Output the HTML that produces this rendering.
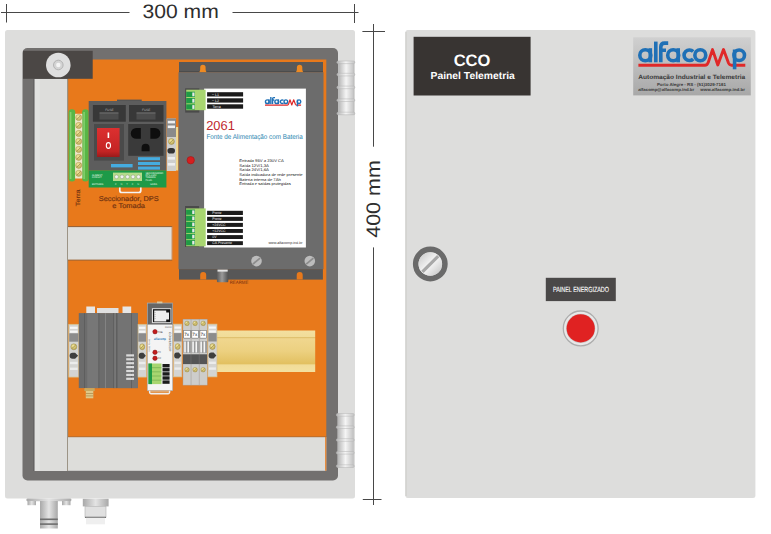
<!DOCTYPE html>
<html><head><meta charset="utf-8"><title>CCO Painel Telemetria</title>
<style>
html,body{margin:0;padding:0;background:#fff;width:771px;height:534px;overflow:hidden}
svg{display:block}
text{font-family:"Liberation Sans",sans-serif;text-rendering:geometricPrecision}
</style></head><body>
<svg width="771" height="534" viewBox="0 0 771 534">
<defs>
<linearGradient id="hinge" x1="0" x2="1" y1="0" y2="0">
<stop offset="0" stop-color="#b4b4b4"/><stop offset="0.5" stop-color="#f5f5f5"/><stop offset="1" stop-color="#c2c2c2"/>
</linearGradient>
<linearGradient id="rail" x1="0" x2="0" y1="0" y2="1">
<stop offset="0" stop-color="#f3e0a0"/><stop offset="0.15" stop-color="#f1dc98"/><stop offset="0.16" stop-color="#dcbc68"/><stop offset="0.2" stop-color="#f0d68e"/><stop offset="0.5" stop-color="#ecd080"/><stop offset="0.8" stop-color="#e2c060"/><stop offset="0.83" stop-color="#f1dc98"/><stop offset="1" stop-color="#f3e0a0"/>
</linearGradient>
<linearGradient id="logo" x1="0" x2="0" y1="0" y2="1">
<stop offset="0" stop-color="#d0d0d0"/><stop offset="1" stop-color="#a8a8a8"/>
</linearGradient>
<linearGradient id="silver" x1="0" x2="1" y1="0" y2="1">
<stop offset="0" stop-color="#c4c4c4"/><stop offset="0.5" stop-color="#f6f6f6"/><stop offset="1" stop-color="#c0c0c0"/>
</linearGradient>
<linearGradient id="gland" x1="0" x2="1" y1="0" y2="0">
<stop offset="0" stop-color="#a8a8a8"/><stop offset="0.5" stop-color="#e4e4e4"/><stop offset="1" stop-color="#a8a8a8"/>
</linearGradient>
<linearGradient id="fuseg" x1="0" x2="1" y1="0" y2="0">
<stop offset="0" stop-color="#5a5a5a"/><stop offset="0.45" stop-color="#9a9a9a"/><stop offset="1" stop-color="#505050"/>
</linearGradient>
<radialGradient id="screwg" cx="0.4" cy="0.35" r="0.7">
<stop offset="0" stop-color="#f4e8a0"/><stop offset="1" stop-color="#b8a450"/>
</radialGradient>
<g id="alogo">
<g fill="none" stroke="#1f70b6" style="stroke-width:var(--bw,3.2)">
<circle cx="645.3" cy="55.25" r="5.5"/><path d="M650.3 48.2 V62.3"/>
<path d="M655.8 41.6 V62.3"/>
<path d="M660.8 62.3 V47 Q660.8 43.15 664.6 43.15 H668.2 M659.3 50.3 H666"/>
<circle cx="673.2" cy="55.25" r="5.5"/><path d="M678.2 48.2 V62.3"/>
<path d="M693.2 51.6 A5.3 5.3 0 1 0 693.2 58.9"/>
<circle cx="700.3" cy="55.25" r="5.45"/>
</g>
<path d="M638.4 65.2 H705 Q707.3 65.2 708.4 62 L712.5 49.6 L717.8 65 L723.5 49.6 L728.5 63 Q729.5 65.2 731.5 65.2 H745.3" fill="none" stroke="#e02828" style="stroke-width:var(--rw,2.7)" stroke-linejoin="round"/>
<g fill="none" stroke="#1f70b6" style="stroke-width:var(--bw,3.2)">
<path d="M734.6 49.5 V69.3"/><circle cx="739.2" cy="55.25" r="5.3"/>
</g>
</g>
<g id="clamp">
<rect x="0" y="0" width="10" height="52.8" fill="#d4d4d2" stroke="#d8c088" stroke-width="0.7"/>
<rect x="1.2" y="2.4" width="7.6" height="2.2" fill="#f6f6f6"/><rect x="1.2" y="6.3" width="7.6" height="2.2" fill="#f6f6f6"/>
<rect x="0.4" y="9" width="9.2" height="8.4" fill="#8c8c8c"/>
<circle cx="5" cy="22.5" r="3" fill="url(#screwg)" stroke="#8b7c3b" stroke-width="0.4"/>
<path d="M3.2 24.1 L6.8 20.9" stroke="#8b7c3b" stroke-width="0.6"/>
<path d="M0.8 31.5 q0 -3 3 -3 h2.5 l3 3 l-3 3 h-2.5 q-3 0 -3 -3z" fill="#3e3e3e"/>
<rect x="1.2" y="37.5" width="7.6" height="2.4" fill="#ececec"/><rect x="1.2" y="43.3" width="7.6" height="2.4" fill="#ececec"/>
</g>
<g id="ft">
<rect x="0" y="0" width="8.07" height="65.9" fill="#cdcdcb" stroke="#a0a0a0" stroke-width="0.4"/>
<circle cx="4.03" cy="4.2" r="2.3" fill="url(#screwg)" stroke="#9b8a4a" stroke-width="0.4"/><path d="M2.5 5.7 l3 -3" stroke="#8b7c3b" stroke-width="0.5"/>
<rect x="0.8" y="11.2" width="6.5" height="7.7" fill="#fff" stroke="#333" stroke-width="0.4"/>
<text x="1.3" y="17" font-size="4.6" fill="#222">7x</text>
<rect x="0.3" y="21.8" width="7.5" height="11.9" fill="#9a9a9a"/>
<rect x="1.2" y="22.3" width="1.6" height="11" fill="#f6f6f6"/><rect x="4.4" y="22.3" width="1.6" height="11" fill="#f6f6f6"/>
<rect x="0" y="35.1" width="8.07" height="9.8" fill="#555"/>
<circle cx="4.03" cy="50.5" r="2.3" fill="url(#screwg)" stroke="#9b8a4a" stroke-width="0.4"/><path d="M2.5 52 l3 -3" stroke="#8b7c3b" stroke-width="0.5"/>
</g>
<linearGradient id="redsw" x1="0" x2="0" y1="0" y2="1"><stop offset="0" stop-color="#dc3030"/><stop offset="0.8" stop-color="#c42424"/><stop offset="1" stop-color="#9a1a1a"/></linearGradient>
</defs>

<!-- dimension lines -->
<g stroke="#474747" stroke-width="1">
<line x1="1" y1="12.5" x2="129.5" y2="12.5"/>
<line x1="232.5" y1="12.5" x2="358.5" y2="12.5"/>
<line x1="6.5" y1="4" x2="6.5" y2="22.5"/>
<line x1="354.5" y1="4" x2="354.5" y2="23"/>
<line x1="373.5" y1="24" x2="373.5" y2="146.7"/>
<line x1="373.5" y1="247.4" x2="373.5" y2="505"/>
<line x1="362.4" y1="31.5" x2="385" y2="31.5"/>
<line x1="362.8" y1="499.5" x2="381.5" y2="499.5"/>
</g>
<text x="142.5" y="18.2" font-size="19.5" fill="#2e2e2e" textLength="76.3" lengthAdjust="spacingAndGlyphs">300 mm</text>
<text transform="translate(380.4,237.8) rotate(-90)" font-size="19.5" fill="#2e2e2e" textLength="77.6" lengthAdjust="spacingAndGlyphs">400 mm</text>

<!-- LEFT PANEL -->
<rect x="5" y="30" width="350" height="468.5" rx="2.5" fill="#dddddc"/>
<rect x="22.5" y="48" width="315.5" height="432.5" rx="5" fill="#72706f"/>
<rect x="33" y="79" width="1.8" height="392" fill="#666464"/>
<rect x="68" y="59.5" width="258.3" height="377.5" fill="#e8791b"/>
<rect x="34.7" y="79" width="33.3" height="392" fill="#dddddb"/>
<rect x="34.8" y="79" width="5" height="392" fill="#e2e2e0"/>
<rect x="67.2" y="79" width="1" height="392" fill="#8c8272"/>
<rect x="68" y="437" width="258.3" height="33.8" fill="#dddddA"/>
<rect x="68" y="436.4" width="258.3" height="0.8" fill="#a86a38"/>
<rect x="325.2" y="437" width="1.1" height="33.8" fill="#e8791b"/>
<!-- top-left block -->
<rect x="23" y="50.8" width="69.7" height="28" fill="#4b4745"/>
<circle cx="58.3" cy="65" r="12.3" fill="#dfdfdf"/>
<circle cx="58.3" cy="65" r="4.8" fill="#d4d4d4" stroke="#b4b4b4" stroke-width="1"/>
<circle cx="58.3" cy="65" r="2.2" fill="#f4f4f4"/>

<!-- hinges -->
<g id="hinge1">
<rect x="338.3" y="61.5" width="15.6" height="53" fill="url(#hinge)" stroke="#b8b8b8" stroke-width="0.5"/>
<g fill="url(#hinge)" stroke="#b4b4b4" stroke-width="0.5">
<rect x="336.9" y="61" width="18" height="2.6" rx="1.3"/><rect x="336.9" y="73.3" width="18" height="2.6" rx="1.3"/><rect x="336.9" y="86.1" width="18" height="2.6" rx="1.3"/><rect x="336.9" y="98.9" width="18" height="2.6" rx="1.3"/><rect x="336.9" y="112.2" width="18" height="2.6" rx="1.3"/>
</g>
</g>
<use href="#hinge1" x="-0.6" y="352.6"/>

<!-- Terra terminal strip -->
<rect x="68.6" y="109.3" width="6.7" height="72.2" rx="3.3" fill="#58b646"/>
<rect x="82.1" y="109.3" width="6.6" height="72.2" rx="3.3" fill="#58b646"/>
<rect x="69.8" y="112" width="1.6" height="67" fill="#84cf6c"/>
<rect x="83.3" y="112" width="1.6" height="67" fill="#84cf6c"/>
<rect x="75.1" y="113.8" width="7.2" height="64.7" fill="#eee8cc"/>
<g stroke="#a8964e" stroke-width="0.4" fill="url(#screwg)"><circle cx="78.7" cy="117.50" r="3.1"/><circle cx="78.7" cy="125.47" r="3.1"/><circle cx="78.7" cy="133.44" r="3.1"/><circle cx="78.7" cy="141.41" r="3.1"/><circle cx="78.7" cy="149.38" r="3.1"/><circle cx="78.7" cy="157.35" r="3.1"/><circle cx="78.7" cy="165.32" r="3.1"/><circle cx="78.7" cy="173.29" r="3.1"/></g>
<path d="M76.6 119.60 l4.2 -4.2 M76.6 127.57 l4.2 -4.2 M76.6 135.54 l4.2 -4.2 M76.6 143.51 l4.2 -4.2 M76.6 151.48 l4.2 -4.2 M76.6 159.45 l4.2 -4.2 M76.6 167.42 l4.2 -4.2 M76.6 175.39 l4.2 -4.2" stroke="#9a8640" stroke-width="0.7"/>
<text transform="translate(79.7,206.2) rotate(-90)" font-size="6.2" fill="#6e3010" stroke="#6e3010" stroke-width="0.12" textLength="16.7" lengthAdjust="spacingAndGlyphs">Terra</text>

<!-- outlet module -->
<rect x="117" y="99.6" width="24.7" height="2.5" fill="#555"/>
<rect x="88.7" y="101" width="77.7" height="69.5" fill="#5d5d5d"/>
<rect x="92.9" y="105" width="32.9" height="16.7" fill="#383838"/>
<rect x="129" y="105" width="34.5" height="16.7" fill="#383838"/>
<rect x="99.5" y="113" width="19" height="6.5" fill="#4c4c4c"/>
<rect x="136.5" y="113" width="19" height="6.5" fill="#4c4c4c"/>
<rect x="99.5" y="112.5" width="19" height="0.9" fill="#7a7a7a"/>
<rect x="136.5" y="112.5" width="19" height="0.9" fill="#7a7a7a"/>
<text x="109.4" y="110.6" font-size="3.2" fill="#b0b0b0" text-anchor="middle">FUSE</text>
<text x="146.2" y="110.6" font-size="3.2" fill="#b0b0b0" text-anchor="middle">FUSE</text>
<rect x="94" y="124" width="30" height="36.6" fill="#4a4a4a"/>
<rect x="97" y="128" width="22.6" height="29" fill="url(#redsw)"/>
<rect x="107.6" y="132.5" width="1.6" height="5.5" fill="#fff"/>
<ellipse cx="108.4" cy="145.5" rx="2.1" ry="2.9" fill="none" stroke="#fff" stroke-width="1.1"/>
<rect x="128.2" y="124" width="35.3" height="31.8" fill="#3a3a3a"/>
<path d="M136.2 128 h4.6 v10.8 h-4.6 a5.4 5.4 0 0 1 0 -10.8z" fill="#0e0e0e"/>
<path d="M155 128 h-4.6 v10.8 h4.6 a5.4 5.4 0 0 0 0 -10.8z" fill="#0e0e0e"/>
<path d="M141.6 151.2 v-3.4 a4 4 0 0 1 8 0 v3.4z" fill="#0e0e0e"/>
<g fill="#45ace0"><rect x="111" y="164" width="21.6" height="3.4"/><rect x="138" y="157.2" width="22" height="3"/><rect x="138" y="162" width="22" height="3"/><rect x="138" y="166.6" width="22" height="3"/></g>
<rect x="88.7" y="170.4" width="77.7" height="17.1" fill="#1d9a48"/>
<rect x="113" y="172.6" width="29" height="8.4" fill="#b5dc8c"/>
<g fill="#f2f2f2" stroke="#7a8a70" stroke-width="0.4"><circle cx="116.5" cy="176.8" r="1.9"/><circle cx="122" cy="176.8" r="1.9"/><circle cx="127.5" cy="176.8" r="1.9"/><circle cx="133" cy="176.8" r="1.9"/><circle cx="138.5" cy="176.8" r="1.9"/></g>
<g fill="#f0fff0" font-size="2.4"><text x="92" y="176">ALIMENT.</text><text x="92" y="178.3">CIRCUIT</text><text x="92" y="184.6">ENTRADA</text><text x="145.5" y="173.8">SECCIONADOR</text><text x="145.5" y="176.1">DPS 230V</text><text x="145.5" y="178.4">TOMADA</text><text x="145.5" y="180.7">PLUG</text><text x="150" y="184.6">SAIDA</text></g>
<g fill="#d8f0d8" font-size="2.6"><text x="115" y="184.8" textLength="24" lengthAdjust="spacing">FNTFN</text></g>
<path d="M119.8 187.5 v3 a2 2 0 0 0 2 2 h17 a2 2 0 0 0 2 -2 v-3" fill="none" stroke="#f4f4f4" stroke-width="1.7"/>
<!-- small clamp right of module -->
<rect x="175.6" y="127" width="2.6" height="43.5" fill="#f0d890"/>
<rect x="166.8" y="118.5" width="9.2" height="52.5" fill="#cfcfcd"/>
<rect x="166.8" y="118.5" width="9.2" height="18.5" fill="#8a8a8a"/>
<rect x="167.8" y="120.8" width="7.2" height="2.6" fill="#eeeeee"/><rect x="167.8" y="125.5" width="7.2" height="2.6" fill="#eeeeee"/>
<circle cx="171.4" cy="141.5" r="3" fill="url(#screwg)" stroke="#8b7c3b" stroke-width="0.4"/>
<path d="M169.6 143.2 l3.6 -3.4" stroke="#8b7c3b" stroke-width="0.6"/>
<rect x="167.4" y="148" width="7.6" height="5.6" rx="2.8" fill="#333"/>
<rect x="167.8" y="157" width="7.2" height="2.6" fill="#eeeeee"/><rect x="167.8" y="163" width="7.2" height="2.6" fill="#eeeeee"/>
<text x="98.8" y="200.9" font-size="7" fill="#6e3010" stroke="#6e3010" stroke-width="0.15" textLength="59.9" lengthAdjust="spacingAndGlyphs">Seccionador, DPS</text>
<text x="112.3" y="207.6" font-size="7" fill="#6e3010" stroke="#6e3010" stroke-width="0.15" textLength="32.7" lengthAdjust="spacingAndGlyphs">e Tomada</text>

<!-- wire duct -->
<rect x="68" y="226.7" width="104.2" height="33.3" fill="#dfdfdc"/>
<rect x="68" y="226" width="104.2" height="1.1" fill="#9a6438"/>
<rect x="68" y="259.6" width="104.2" height="1" fill="#9a6438"/>
<rect x="171.6" y="226.7" width="0.8" height="33.3" fill="#c08050"/>

<!-- PSU 2061 -->
<rect x="179" y="62" width="144" height="10.3" fill="#595959"/>
<rect x="179" y="71" width="144" height="1.4" fill="#4c4c4c"/>
<path d="M199.1 72.2 q1.1 -1 1.1 -3 v-1.8 a2.7 2.7 0 0 1 5.4 0 v1.8 q0 2 1.1 3z" fill="#ee8a22"/>
<path d="M295.8 72.2 q1.1 -1 1.1 -3 v-1.8 a2.7 2.7 0 0 1 5.4 0 v1.8 q0 2 1.1 3z" fill="#ee8a22"/>
<rect x="178.5" y="72.3" width="145" height="196.9" fill="#6c6c6c"/>
<rect x="179" y="269.1" width="143.9" height="10.5" fill="#575757"/>
<path d="M200.2 279.6 v-4.6 a3 3 0 0 1 6 0 v4.6z" fill="#e8791b"/>
<path d="M296.7 279.6 v-4.6 a3 3 0 0 1 6 0 v4.6z" fill="#e8791b"/>
<rect x="204.1" y="88.6" width="101.8" height="158.9" fill="#ffffff"/>
<!-- top terminal -->
<rect x="185.2" y="88.3" width="14.1" height="24.3" fill="#4a4a4a"/>
<rect x="186.2" y="89.7" width="19.4" height="20.5" fill="#a8d670"/>
<g fill="#1f9a45"><rect x="186.2" y="91.7" width="8.7" height="5.3"/><rect x="186.2" y="98" width="8.7" height="5.3"/><rect x="186.2" y="104.3" width="8.7" height="5.2"/></g>
<g fill="#e8e8e8"><rect x="192.3" y="92.5" width="2.2" height="3.8"/><rect x="192.3" y="98.8" width="2.2" height="3.8"/><rect x="192.3" y="105.1" width="2.2" height="3.8"/></g>
<g fill="#1b1b1b"><rect x="207.1" y="92.2" width="36" height="4.3"/><rect x="207.1" y="98.3" width="36" height="4.3"/><rect x="207.1" y="104.3" width="36" height="4.4"/></g>
<g fill="#f4f4f4" font-size="3.6"><text x="212" y="95.6">~  L1</text><text x="212" y="101.7">~  L2</text><text x="212.5" y="107.8">Terra</text></g>
<!-- mini logo -->
<use href="#alogo" style="--bw:4.1;--rw:3.4" transform="translate(49.38,83.05) scale(0.3377)"/>
<text x="206.2" y="130" font-size="13" fill="#c0282c" textLength="28.6" lengthAdjust="spacingAndGlyphs">2061</text>
<text x="206.4" y="138.5" font-size="7" fill="#2a86b0" textLength="96.3" lengthAdjust="spacingAndGlyphs">Fonte de Alimentação com Bateria</text>
<g font-size="3.9" fill="#141414">
<text x="239.3" y="161.9" textLength="44.6" lengthAdjust="spacingAndGlyphs">Entrada 95V a 230V CA</text>
<text x="239.3" y="166.6" textLength="29.6" lengthAdjust="spacingAndGlyphs">Saída 12V/1,3A</text>
<text x="239.3" y="171.3" textLength="29.6" lengthAdjust="spacingAndGlyphs">Saída 24V/1,6A</text>
<text x="239.3" y="175.9" textLength="63.3" lengthAdjust="spacingAndGlyphs">Saída indicadora de rede presente</text>
<text x="239.3" y="180.6" textLength="41.5" lengthAdjust="spacingAndGlyphs">Bateria interna de 7Ah</text>
<text x="239.3" y="185.1" textLength="51.4" lengthAdjust="spacingAndGlyphs">Entrada e saídas protegidas</text>
</g>
<text x="268.4" y="244.3" font-size="3.6" fill="#333" textLength="34.1" lengthAdjust="spacingAndGlyphs">www.alfacomp.ind.br</text>
<circle cx="190.7" cy="160.2" r="3.7" fill="#d61e1e" stroke="#a01818" stroke-width="0.6"/>
<!-- bottom terminal -->
<rect x="185.1" y="206" width="14" height="41" fill="#4a4a4a"/>
<rect x="186.1" y="208.4" width="19.6" height="37.9" fill="#a8d670"/>
<g fill="#1f9a45"><rect x="186.1" y="209.6" width="8.9" height="5.2"/><rect x="186.1" y="215.7" width="8.9" height="5.2"/><rect x="186.1" y="221.8" width="8.9" height="5.2"/><rect x="186.1" y="227.9" width="8.9" height="5.2"/><rect x="186.1" y="234" width="8.9" height="5.2"/><rect x="186.1" y="240.1" width="8.9" height="5.2"/></g>
<g fill="#e8e8e8"><rect x="192.2" y="210.4" width="2.3" height="3.6"/><rect x="192.2" y="216.5" width="2.3" height="3.6"/><rect x="192.2" y="222.6" width="2.3" height="3.6"/><rect x="192.2" y="228.7" width="2.3" height="3.6"/><rect x="192.2" y="234.8" width="2.3" height="3.6"/><rect x="192.2" y="240.9" width="2.3" height="3.6"/></g>
<g fill="#1b1b1b"><rect x="207.1" y="210.8" width="35.8" height="4.2"/><rect x="207.1" y="216.8" width="35.8" height="4.1"/><rect x="207.1" y="222.9" width="35.8" height="4"/><rect x="207.1" y="229" width="35.8" height="3.9"/><rect x="207.1" y="235.1" width="35.8" height="3.9"/><rect x="207.1" y="241.2" width="35.8" height="3.9"/></g>
<g fill="#f4f4f4" font-size="3.5"><text x="212.3" y="214.1">Ponte</text><text x="212.3" y="220.1">Ponte</text><text x="212.3" y="226.1">+24VCC</text><text x="212.3" y="232.1">+12VCC</text><text x="212.3" y="238.1">0V</text><text x="212.3" y="244.2">CA Presente</text></g>
<!-- screws -->
<g><circle cx="256.5" cy="261.1" r="5.3" fill="#bcbcbc"/><path d="M252.9 264.1 l7.2 -6" stroke="#8c8c8c" stroke-width="1.8"/></g>
<g><circle cx="309.8" cy="261.1" r="5.3" fill="#bcbcbc"/><path d="M306.2 264.1 l7.2 -6" stroke="#8c8c8c" stroke-width="1.8"/></g>
<rect x="216.9" y="270.2" width="11.4" height="12" rx="1" fill="url(#fuseg)"/>
<rect x="217.5" y="269.6" width="10.2" height="2" fill="#e6e6e6"/>
<text x="229.7" y="284.2" font-size="4.6" fill="#7a3010" textLength="18.7" lengthAdjust="spacingAndGlyphs">REARME</text>

<!-- DIN rail row -->
<rect x="217" y="330.5" width="98.2" height="41.5" fill="url(#rail)"/>
<use href="#clamp" transform="translate(68.8,324.3)"/>
<!-- modem -->
<rect x="86.3" y="306.5" width="8.7" height="7" fill="#e6e6e6"/>
<rect x="97" y="308" width="21.5" height="5.5" fill="#e0e0e0"/>
<rect x="122.5" y="306.5" width="8.7" height="7" fill="#e6e6e6"/>
<rect x="78.8" y="313.1" width="59" height="75" fill="#6c6c6c"/>
<rect x="87.2" y="313.1" width="11.3" height="75" fill="#777"/>
<rect x="118" y="313.1" width="19.8" height="75" fill="#737373"/>
<g fill="#5c5c5c"><rect x="84" y="313.1" width="0.8" height="75"/><rect x="98.5" y="313.1" width="0.8" height="75"/><rect x="113.3" y="313.1" width="1" height="75"/><rect x="116.2" y="313.1" width="1" height="75"/><rect x="131" y="313.1" width="0.8" height="75"/></g>
<g fill="#8a8a8a"><rect x="105" y="313.1" width="0.8" height="75"/><rect x="114.6" y="313.1" width="0.8" height="75"/></g>
<g fill="#dadada"><rect x="126.2" y="354.3" width="7.8" height="2.2"/><rect x="126.2" y="358.2" width="7.8" height="2.2"/><rect x="126.2" y="362.1" width="7.8" height="2.2"/><rect x="126.2" y="366" width="7.8" height="2.2"/><rect x="126.2" y="369.9" width="7.8" height="2.2"/><rect x="126.2" y="373.8" width="7.8" height="2.2"/><rect x="126.2" y="377.7" width="7.8" height="2.2"/></g>
<rect x="84.4" y="388.1" width="10.3" height="3" fill="#c8a860"/>
<rect x="85.8" y="391" width="7.5" height="7.3" fill="#e0c888"/>
<rect x="85.8" y="393" width="7.5" height="0.8" fill="#b09050"/><rect x="85.8" y="395.5" width="7.5" height="0.8" fill="#b09050"/>
<use href="#clamp" transform="translate(138,324.3) scale(0.84,1)"/>
<!-- converter module -->
<rect x="147.3" y="303.1" width="25.4" height="87.6" fill="#f4f4f4" stroke="#a8a8a8" stroke-width="0.6"/>
<rect x="147.3" y="303.1" width="25.4" height="21.5" fill="#666" stroke="#b0b0b0" stroke-width="0.5"/>
<rect x="157" y="301.5" width="5.4" height="1.8" fill="#d8c8a0"/>
<rect x="151.9" y="308.2" width="19.4" height="14.9" fill="#dcdcdc"/>
<rect x="153" y="309.2" width="17.4" height="12.9" fill="#111"/>
<path d="M154.2 310.6 h12 v2 h2.8 v7 h-2.8 v2 h-12z" fill="#eeeeee"/>
<g fill="#999"><rect x="154.2" y="312" width="1.6" height="0.5"/><rect x="154.2" y="314" width="1.6" height="0.5"/><rect x="154.2" y="316" width="1.6" height="0.5"/><rect x="154.2" y="318" width="1.6" height="0.5"/></g>
<text x="165" y="328.3" font-size="2.2" fill="#666">RS232</text>
<g font-size="2.4" fill="#333"><text x="157.8" y="332.6">PCB</text><text x="157.8" y="353.2">TX</text><text x="157.8" y="359.2">RX</text></g>
<g fill="#c41c1c" stroke="#7a1010" stroke-width="0.5"><circle cx="155" cy="331.7" r="2.2"/><circle cx="155" cy="352.3" r="2.2"/><circle cx="155" cy="358.3" r="2.2"/></g>
<text x="154" y="340.4" font-size="3.4" font-weight="bold" fill="#2a79b8" textLength="12" lengthAdjust="spacingAndGlyphs">alfacomp</text>
<text transform="translate(168.5,332) rotate(90)" font-size="3" fill="#333">CONVERSOR</text>
<text transform="translate(150,352) rotate(-90)" font-size="2" fill="#666">RS232 RS485</text>
<rect x="148.4" y="363.5" width="13.1" height="20.6" fill="#a8d670"/>
<rect x="148.4" y="363.5" width="3.6" height="20.6" fill="#1f9a45"/>
<g fill="#6aa84a"><rect x="152" y="367.5" width="9.5" height="0.6"/><rect x="152" y="371.6" width="9.5" height="0.6"/><rect x="152" y="375.7" width="9.5" height="0.6"/><rect x="152" y="379.8" width="9.5" height="0.6"/></g>
<g fill="#1b1b1b"><rect x="162.5" y="364" width="7.1" height="3.4"/><rect x="162.5" y="368.1" width="7.1" height="3.4"/><rect x="162.5" y="372.2" width="7.1" height="3.4"/><rect x="162.5" y="376.3" width="7.1" height="3.4"/><rect x="162.5" y="380.4" width="7.1" height="3.4"/></g>
<rect x="150" y="390.6" width="19" height="2" fill="#e0a870"/>
<path d="M149.6 390.7 v1.6 a1.5 1.5 0 0 0 1.5 1.5 h17 a1.5 1.5 0 0 0 1.5 -1.5 v-1.6" fill="none" stroke="#eeeeee" stroke-width="1.4"/>
<use href="#clamp" transform="translate(173.5,324.1) scale(0.84,1)"/>
<!-- fuse terminals x3 -->
<use href="#ft" transform="translate(183,319.2)"/>
<use href="#ft" transform="translate(191.07,319.2)"/>
<use href="#ft" transform="translate(199.14,319.2)"/>
<use href="#clamp" transform="translate(207.9,324.1) scale(0.91,1)"/>

<!-- glands -->
<rect x="26.4" y="498.4" width="45" height="2.8" rx="1.2" fill="url(#gland)"/>
<rect x="27.5" y="501" width="8.5" height="4.2" fill="url(#gland)"/>
<rect x="62" y="501" width="8.5" height="4.2" fill="url(#gland)"/>
<rect x="40" y="501" width="17.8" height="17" fill="url(#gland)"/>
<rect x="40" y="518" width="17.8" height="10.5" fill="url(#gland)"/>
<rect x="40" y="518.5" width="17.8" height="1.6" fill="#6e6e6e"/>
<rect x="40" y="523.3" width="17.8" height="1.6" fill="#6e6e6e"/>
<rect x="82.8" y="498.8" width="25.8" height="7.6" fill="url(#gland)"/>
<rect x="85" y="506.4" width="21" height="10.8" fill="#e0e0e0" stroke="#b0b0b0" stroke-width="0.6"/>
<rect x="85" y="516.8" width="21" height="1" fill="#5e5e5e"/>
<rect x="86" y="517.8" width="19" height="6.5" fill="#efefef"/>

<!-- RIGHT PANEL -->
<rect x="405.4" y="30" width="350" height="468" rx="2.5" fill="#dddddc"/>
<rect x="405.4" y="32" width="1.2" height="464" fill="#cdcdcb"/>
<rect x="413.6" y="36.8" width="117" height="58.7" fill="#383432"/>
<text x="472" y="66" font-size="16.5" font-weight="bold" fill="#fff" text-anchor="middle">CCO</text>
<text x="430.5" y="78.6" font-size="10.2" font-weight="bold" fill="#fff" textLength="84.3" lengthAdjust="spacingAndGlyphs">Painel Telemetria</text>
<!-- logo -->
<rect x="633.2" y="37.3" width="117.6" height="58.1" fill="url(#logo)"/>
<use href="#alogo" style="--bw:3.6;--rw:2.9"/>
<text x="638.2" y="79.3" font-size="6.2" font-weight="bold" fill="#3a3a3a" textLength="107" lengthAdjust="spacingAndGlyphs">Automação Industrial e Telemetria</text>
<text x="656.9" y="86.2" font-size="4.4" font-weight="bold" fill="#3a3a3a" textLength="69" lengthAdjust="spacingAndGlyphs">Porto Alegre - RS - (51)3029-7161</text>
<text x="638.2" y="90.8" font-size="4.2" font-weight="bold" fill="#3a3a3a" textLength="56" lengthAdjust="spacingAndGlyphs">alfacomp@alfacomp.ind.br</text>
<text x="700.2" y="90.8" font-size="4.2" font-weight="bold" fill="#3a3a3a" textLength="44.8" lengthAdjust="spacingAndGlyphs">www.alfacomp.ind.br</text>
<!-- lock -->
<circle cx="430.3" cy="264" r="14.6" fill="none" stroke="#6a6a6a" stroke-width="5.6"/>
<circle cx="430.3" cy="264" r="11.8" fill="url(#silver)"/>
<path d="M422.4 271.9 L438.2 256.1" stroke="#a8a8a8" stroke-width="3.2"/>
<!-- indicator -->
<rect x="545.8" y="277.8" width="70" height="23.3" fill="#4a4848"/>
<text x="553" y="292.3" font-size="7.4" fill="#fff" stroke="#fff" stroke-width="0.12" textLength="56" lengthAdjust="spacingAndGlyphs">PAINEL ENERGIZADO</text>
<circle cx="580.7" cy="328.4" r="17.4" fill="#e8e8e8" stroke="#acacac" stroke-width="1.3"/>
<circle cx="580.7" cy="328.4" r="14.6" fill="#c8c8c8"/>
<circle cx="580.7" cy="328.4" r="14.1" fill="#e02222"/>
</svg>
</body></html>
